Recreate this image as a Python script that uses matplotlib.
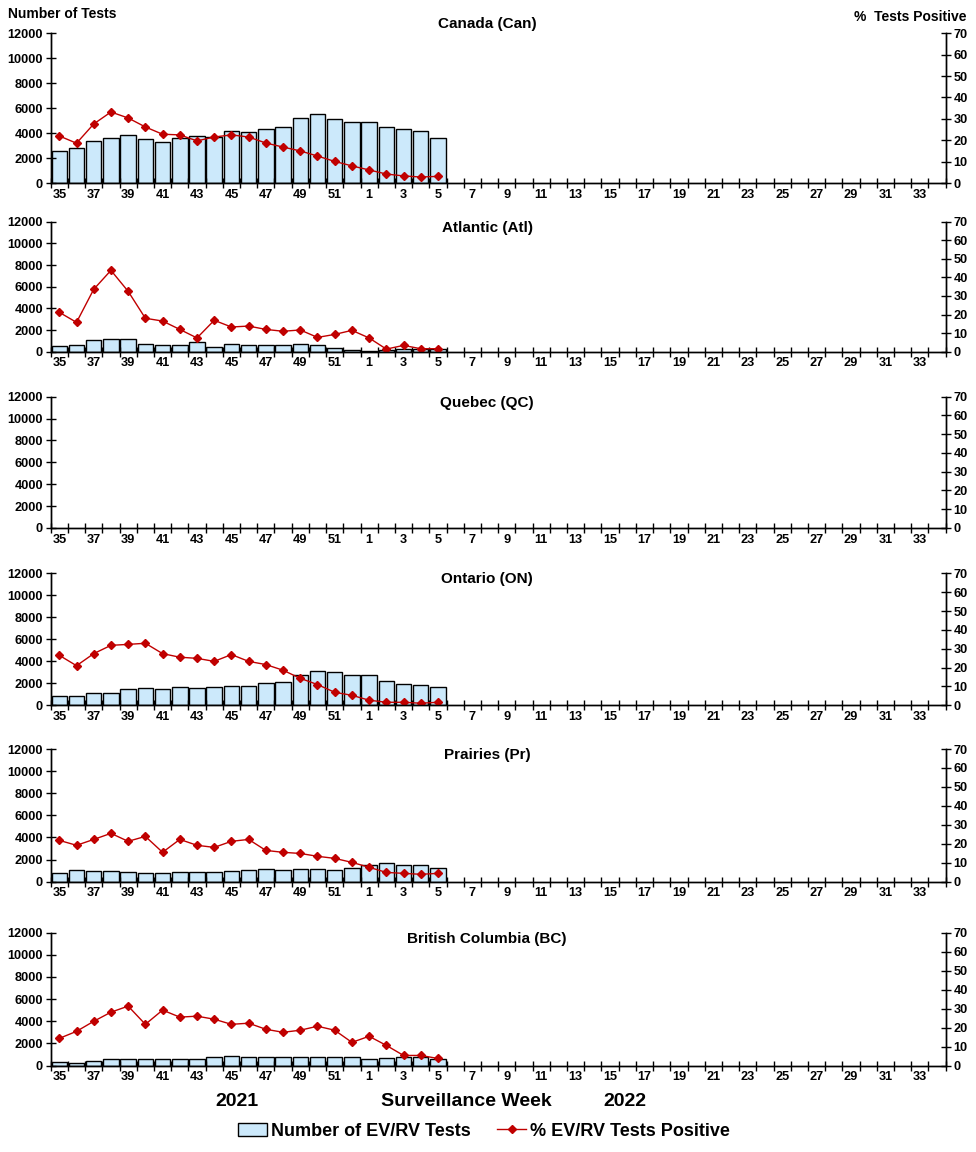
import numpy as np
import matplotlib.pyplot as plt
from matplotlib.patches import Patch
from matplotlib.lines import Line2D

plt.rcParams['font.family'] = ['Liberation Sans', 'DejaVu Sans']
plt.rcParams['font.weight'] = 'bold'

# surveillance weeks 35..52 (2021) then 1..34 (2022)
weeks = list(range(35, 53)) + list(range(1, 35))

# number of EV/RV tests per week (data through week 5)
can_tests = [2550, 2800, 3350, 3600, 3850, 3500, 3280, 3600, 3750, 3680, 4150, 4080,
             4300, 4480, 5200, 5500, 5100, 4880, 4880, 4480, 4300, 4150, 3600]
atl_tests = [550, 650, 1050, 1150, 1150, 750, 580, 650, 850, 480, 750, 650,
             580, 650, 750, 650, 300, 150, 80, 150, 230, 250, 250]
qc_tests = []
on_tests = [820, 820, 1090, 1090, 1450, 1550, 1450, 1640, 1550, 1640, 1730, 1730,
            2000, 2090, 2730, 3090, 3000, 2730, 2730, 2180, 1910, 1820, 1640]
pr_tests = [750, 1020, 930, 930, 840, 750, 750, 840, 840, 840, 930, 1020,
            1110, 1020, 1110, 1110, 1020, 1200, 1470, 1650, 1470, 1470, 1200]
bc_tests = [300, 270, 390, 545, 545, 545, 545, 545, 545, 730, 820, 730,
            730, 730, 730, 730, 730, 730, 545, 640, 730, 730, 545]

# % EV/RV tests positive
can_pct = [22.0, 18.6, 27.6, 33.2, 30.4, 26.2, 22.8, 22.5, 19.7, 21.5, 22.5, 21.5,
           18.7, 16.8, 15.0, 12.6, 10.1, 8.0, 6.1, 4.2, 3.3, 2.8, 3.1]
atl_pct = [21.2, 15.8, 33.6, 43.8, 32.5, 18.0, 16.5, 12.0, 7.4, 16.9, 13.3, 13.8,
           12.0, 11.0, 11.7, 7.7, 9.3, 11.5, 7.4, 1.4, 3.4, 1.6, 1.6]
qc_pct = []
on_pct = [26.5, 21.0, 27.4, 31.8, 32.3, 32.9, 27.4, 25.5, 24.9, 23.3, 26.9, 23.3,
          21.6, 18.6, 14.3, 11.0, 6.9, 5.3, 2.7, 1.6, 1.6, 1.1, 1.6]
pr_pct = [21.8, 19.2, 22.3, 25.5, 21.3, 23.9, 15.5, 22.3, 19.2, 18.1, 21.3, 22.3,
          16.5, 15.5, 14.9, 13.4, 12.3, 10.2, 7.6, 4.9, 4.4, 3.9, 4.4]
bc_pct = [14.3, 18.0, 23.3, 28.1, 31.3, 21.7, 29.2, 25.5, 26.0, 24.4, 21.7, 22.3,
          19.1, 17.5, 18.6, 20.7, 18.6, 12.2, 15.4, 10.6, 5.3, 5.3, 3.7]

titles = ['Canada (Can)', 'Atlantic (Atl)', 'Quebec (QC)', 'Ontario (ON)',
          'Prairies (Pr)', 'British Columbia (BC)']
tests = [can_tests, atl_tests, qc_tests, on_tests, pr_tests, bc_tests]
pcts = [can_pct, atl_pct, qc_pct, on_pct, pr_pct, bc_pct]

bar_color = '#cce9fb'
line_color = '#c00000'

W, H = 976, 1152
fig = plt.figure(figsize=(W / 100, H / 100), dpi=100)

# (top, bottom) of each plot area in pixels
boxes = [(33.3, 183), (221.7, 351.7), (396.7, 528), (573.3, 705.3), (749, 881.7), (932.7, 1065.5)]
left, right = 50.7, 945.7

n = len(weeks)
x = np.arange(n)
fs = 9.2

for i, (top, bot) in enumerate(boxes):
    ax = fig.add_axes([left / W, 1 - bot / H, (right - left) / W, (bot - top) / H])
    ax2 = ax.twinx()
    t = tests[i]
    p = pcts[i]
    if t:
        ax.bar(x[:len(t)], t, width=0.9, color=bar_color, edgecolor='black', linewidth=1.0)
    if p:
        ax2.plot(x[:len(p)], p, color=line_color, marker='D', markersize=4.5,
                 linewidth=1.0, markeredgecolor=line_color)
    ax.set_xlim(-0.5, n - 0.5)
    ax.set_ylim(0, 12000)
    ax2.set_ylim(0, 70)
    ax.set_yticks(range(0, 12001, 2000))
    ax2.set_yticks(range(0, 71, 10))
    for a in (ax, ax2):
        a.spines['top'].set_visible(False)
        for s in ('left', 'right', 'bottom'):
            a.spines[s].set_linewidth(1.0)
    # category boundaries as tick marks, labels on every other category
    ax.set_xticks(np.arange(-0.5, n, 1.0))
    ax.set_xticklabels([])
    ax.set_xticks(x[::2], minor=True)
    ax.set_xticklabels([str(w) for w in weeks[::2]], minor=True, fontsize=fs, fontweight='bold')
    ax.tick_params(axis='x', which='major', direction='inout', length=7, width=1)
    ax.tick_params(axis='x', which='minor', length=0, pad=4)
    ax.tick_params(axis='y', direction='inout', length=7, width=1, pad=2)
    ax2.tick_params(axis='y', direction='inout', length=7, width=1, pad=2)
    for lab in ax.get_yticklabels() + ax2.get_yticklabels():
        lab.set_fontsize(fs)
        lab.set_fontweight('bold')
    ty = 24 if i == 0 else top + 6
    fig.text(487 / W, 1 - ty / H, titles[i], ha='center', va='center',
             fontsize=11, fontweight='bold')

fig.text(8 / W, 1 - 14 / H, 'Number of Tests', ha='left', va='center', fontsize=10, fontweight='bold')
fig.text(966 / W, 1 - 17 / H, '%  Tests Positive', ha='right', va='center', fontsize=10, fontweight='bold')

fig.text(237 / W, 1 - 1101 / H, '2021', ha='center', va='center', fontsize=14, fontweight='bold')
fig.text(466 / W, 1 - 1101 / H, 'Surveillance Week', ha='center', va='center', fontsize=14, fontweight='bold')
fig.text(625 / W, 1 - 1101 / H, '2022', ha='center', va='center', fontsize=14, fontweight='bold')

handles = [Patch(facecolor=bar_color, edgecolor='black', linewidth=1.0),
           Line2D([0], [0], color=line_color, marker='D', markersize=4.5, linewidth=1.0)]
fig.legend(handles, ['Number of EV/RV Tests', '% EV/RV Tests Positive'],
           loc='center', bbox_to_anchor=(484 / W, 1 - 1131 / H), ncol=2, frameon=False,
           prop=dict(size=13, weight='bold'), handlelength=1.6, handletextpad=0.2,
           columnspacing=1.5)

fig.savefig('out.png', dpi=100)
